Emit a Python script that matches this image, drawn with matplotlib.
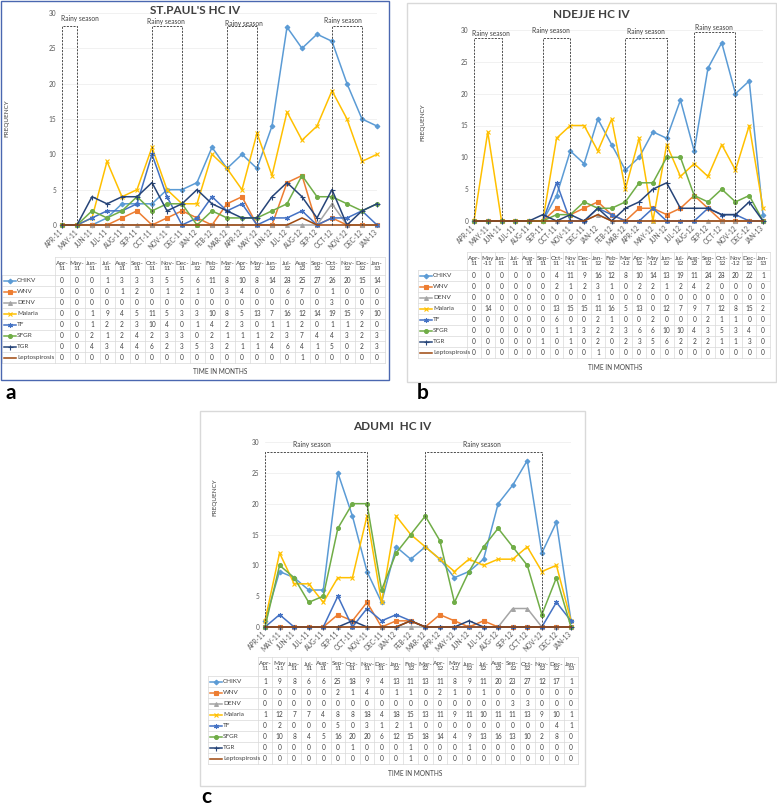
import numpy as np
import matplotlib

matplotlib.use("Agg")
import matplotlib.pyplot as plt
from matplotlib.patches import Rectangle

plt.rcParams["font.family"] = ["Lato", "DejaVu Sans"]

W, H = 777, 806

# months on the category axis
months = ["APR-11", "MAY-11", "JUN-11", "JUL-11", "AUG-11", "SEP-11", "OCT-11",
          "NOV-11", "DEC-11", "JAN-12", "FEB-12", "MAR-12", "APR-12", "MAY-12",
          "JUN-12", "JUL-12", "AUG-12", "SEP-12", "OCT-12", "NOV-12", "DEC-12",
          "JAN-13"]

# table header labels (as printed in each data table)
head_a = ["Apr-\n11", "May-\n11", "Jun-\n11", "Jul-\n11", "Aug-\n11", "Sep-\n11",
          "Oct-\n11", "Nov-\n11", "Dec-\n11", "Jan-\n12", "Feb-\n12", "Mar-\n12",
          "Apr-\n12", "May-\n12", "Jun-\n12", "Jul-\n12", "Aug-\n12", "Sep-\n12",
          "Oct-\n12", "Nov-\n12", "Dec-\n12", "Jan-\n13"]
head_b = ["Apr-\n11", "May\n-11", "Jun-\n11", "Jul-\n11", "Aug-\n11", "Sep-\n11",
          "Oct-\n11", "Nov\n-11", "Dec-\n11", "Jan-\n12", "Feb-\n12", "Mar\n-12",
          "Apr-\n12", "May\n-12", "Jun-\n12", "Jul-\n12", "Aug-\n12", "Sep-\n12",
          "Oct-\n12", "Nov\n-12", "Dec-\n12", "Jan-\n13"]
head_c = ["Apr-\n11", "May\n-11", "Jun-\n11", "Jul-\n11", "Aug-\n11", "Sep-\n11",
          "Oct-\n11", "Nov-\n11", "Dec-\n11", "Jan-\n12", "Feb-\n12", "Mar-\n12",
          "Apr-\n12", "May\n-12", "Jun-\n12", "Jul-\n12", "Aug-\n12", "Sep-\n12",
          "Oct-\n12", "Nov-\n12", "Dec-\n12", "Jan-\n13"]

series_names = ["CHIKV", "WNV", "DENV", "Malaria", "TF", "SFGR", "TGR", "Leptospirosis"]

# St. Paul's HC IV
stpaul_chikv = [0, 0, 0, 1, 3, 3, 3, 5, 5, 6, 11, 8, 10, 8, 14, 28, 25, 27, 26, 20, 15, 14]
stpaul_wnv = [0, 0, 0, 0, 1, 2, 0, 1, 2, 1, 0, 3, 4, 0, 0, 6, 7, 0, 1, 0, 0, 0]
stpaul_denv = [0, 0, 0, 0, 0, 0, 0, 0, 0, 0, 0, 0, 0, 0, 0, 0, 0, 0, 3, 0, 0, 0]
stpaul_malaria = [0, 0, 1, 9, 4, 5, 11, 5, 3, 3, 10, 8, 5, 13, 7, 16, 12, 14, 19, 15, 9, 10]
stpaul_tf = [0, 0, 1, 2, 2, 3, 10, 4, 0, 1, 4, 2, 3, 0, 1, 1, 2, 0, 1, 1, 2, 0]
stpaul_sfgr = [0, 0, 2, 1, 2, 4, 2, 3, 3, 0, 2, 1, 1, 1, 2, 3, 7, 4, 4, 3, 2, 3]
stpaul_tgr = [0, 0, 4, 3, 4, 4, 6, 2, 3, 5, 3, 2, 1, 1, 4, 6, 4, 1, 5, 0, 2, 3]
stpaul_lepto = [0, 0, 0, 0, 0, 0, 0, 0, 0, 0, 0, 0, 0, 0, 0, 0, 1, 0, 0, 0, 0, 0]

# Ndejje HC IV
ndejje_chikv = [0, 0, 0, 0, 0, 0, 4, 11, 9, 16, 12, 8, 10, 14, 13, 19, 11, 24, 28, 20, 22, 1]
ndejje_wnv = [0, 0, 0, 0, 0, 0, 2, 1, 2, 3, 1, 0, 2, 2, 1, 2, 4, 2, 0, 0, 0, 0]
ndejje_denv = [0, 0, 0, 0, 0, 0, 0, 0, 0, 1, 0, 0, 0, 0, 0, 0, 0, 0, 0, 0, 0, 0]
ndejje_malaria = [0, 14, 0, 0, 0, 0, 13, 15, 15, 11, 16, 5, 13, 0, 12, 7, 9, 7, 12, 8, 15, 2]
ndejje_tf = [0, 0, 0, 0, 0, 0, 6, 0, 0, 2, 1, 0, 0, 2, 0, 0, 0, 2, 1, 1, 0, 0]
ndejje_sfgr = [0, 0, 0, 0, 0, 0, 1, 1, 3, 2, 2, 3, 6, 6, 10, 10, 4, 3, 5, 3, 4, 0]
ndejje_tgr = [0, 0, 0, 0, 0, 1, 0, 1, 0, 2, 0, 2, 3, 5, 6, 2, 2, 2, 1, 1, 3, 0]
ndejje_lepto = [0, 0, 0, 0, 0, 0, 0, 0, 0, 1, 0, 0, 0, 0, 0, 0, 0, 0, 0, 0, 0, 0]

# Adumi HC IV
adumi_chikv = [1, 9, 8, 6, 6, 25, 18, 9, 4, 13, 11, 13, 11, 8, 9, 11, 20, 23, 27, 12, 17, 1]
adumi_wnv = [0, 0, 0, 0, 0, 2, 1, 4, 0, 1, 1, 0, 2, 1, 0, 1, 0, 0, 0, 0, 0, 0]
adumi_denv = [0, 0, 0, 0, 0, 0, 0, 0, 0, 0, 0, 0, 0, 0, 0, 0, 0, 3, 3, 0, 0, 0]
adumi_malaria = [1, 12, 7, 7, 4, 8, 8, 18, 4, 18, 15, 13, 11, 9, 11, 10, 11, 11, 13, 9, 10, 1]
adumi_tf = [0, 2, 0, 0, 0, 5, 0, 3, 1, 2, 1, 0, 0, 0, 0, 0, 0, 0, 0, 0, 4, 1]
adumi_sfgr = [0, 10, 8, 4, 5, 16, 20, 20, 6, 12, 15, 18, 14, 4, 9, 13, 16, 13, 10, 2, 8, 0]
adumi_tgr = [0, 0, 0, 0, 0, 0, 1, 0, 0, 0, 1, 0, 0, 0, 1, 0, 0, 0, 0, 0, 0, 0]
adumi_lepto = [0, 0, 0, 0, 0, 0, 0, 0, 0, 0, 1, 0, 0, 0, 0, 0, 0, 0, 0, 0, 0, 0]

# rainy season spans (first month index, last month index)
seasons_a = [(0, 1), (6, 8), (11, 13), (18, 20)]
seasons_b = [(0, 2), (5, 7), (11, 14), (16, 19)]
seasons_c = [(0, 7), (11, 19)]

styles = {
    "CHIKV": ("#5B9BD5", "D", 2.4),
    "WNV": ("#ED7D31", "s", 2.6),
    "DENV": ("#A5A5A5", "^", 2.8),
    "Malaria": ("#FFC000", "x", 3.4),
    "TF": ("#4472C4", (6, 2, 0), 3.6),
    "SFGR": ("#70AD47", "o", 2.8),
    "TGR": ("#264478", "+", 3.6),
    "Leptospirosis": ("#9E480E", None, 0),
}

TXT = "#404040"


def draw_panel(fig, title, values, head, seasons, box, box_color, title_y,
               chart, ylab_xy, season_pos, tab_top, head_h, row_h, leg_left,
               time_xy, letter, letter_xy):
    x0, x1, yt, yb = chart
    n = len(months)

    # panel frame
    bx0, by0, bx1, by1 = box
    fig.add_artist(Rectangle((bx0 / W, 1 - by1 / H), (bx1 - bx0) / W, (by1 - by0) / H,
                             transform=fig.transFigure, fill=False, ec=box_color, lw=1))
    fig.text((bx0 + bx1) / 2 / W, 1 - title_y / H, title, ha="center", va="center",
             fontsize=8.5, weight="bold", color=TXT)

    ax = fig.add_axes([x0 / W, 1 - yb / H, (x1 - x0) / W, (yb - yt) / H])
    idx = np.arange(n)
    for name, vals in zip(series_names, values):
        col, mk, ms = styles[name]
        ax.plot(idx, vals, color=col, marker=mk, ms=ms, mew=0.8, lw=1.1,
                clip_on=False, zorder=3)
    ax.set_xlim(0, n - 1)
    ax.set_ylim(0, 30)
    ax.set_yticks(range(0, 31, 5))
    ax.set_xticks(idx)
    ax.set_xticklabels(months, rotation=45, ha="right", va="center",
                       rotation_mode="anchor", fontsize=4.5, color="#595959")
    ax.tick_params(length=0, pad=4, labelsize=4.7, labelcolor="#595959")
    for s in ax.spines.values():
        s.set_visible(False)
    ax.grid(axis="y", color="#ececec", lw=0.5)
    ax.set_axisbelow(True)
    ax.patch.set_alpha(0)

    for (s0, s1), (top, lx, ly) in zip(seasons, season_pos):
        ax.plot([s0, s0, s1, s1], [0, top, top, 0], ls=(0, (2.5, 1.5)),
                color="#303030", lw=0.6, clip_on=False, zorder=5)
        ax.text(lx, ly, "Rainy season", fontsize=4.8, ha="center", va="center",
                color=TXT, zorder=6)

    fig.text(ylab_xy[0] / W, 1 - ylab_xy[1] / H, "FREQUENCY", rotation=90,
             ha="center", va="center", fontsize=4.6, color=TXT)

    # data table below the chart
    tab_h = head_h + len(values) * row_h
    tax = fig.add_axes([x0 / W, 1 - (tab_top + tab_h) / H, (x1 - x0) / W, tab_h / H])
    tax.set_xlim(0, n - 1)
    tax.set_ylim(tab_h, 0)
    tax.axis("off")
    u = (n - 1) / (x1 - x0)
    lx = (leg_left - x0) * u
    gc = "#d9d9d9"
    tax.plot([-0.5, n - 0.5], [0, 0], color=gc, lw=0.5, clip_on=False)
    for k in range(len(values) + 1):
        yy = head_h + k * row_h
        tax.plot([lx, n - 0.5], [yy, yy], color=gc, lw=0.5, clip_on=False)
    for i in range(n + 1):
        tax.plot([i - 0.5, i - 0.5], [0, tab_h], color=gc, lw=0.5, clip_on=False)
    tax.plot([lx, lx], [head_h, tab_h], color=gc, lw=0.5, clip_on=False)

    for i, lab in enumerate(head):
        tax.text(i, head_h / 2, lab, ha="center", va="center", fontsize=4.6,
                 linespacing=1.0, color=TXT, clip_on=False)
    for r, (name, vals) in enumerate(zip(series_names, values)):
        yc = head_h + (r + 0.5) * row_h
        for i, v in enumerate(vals):
            tax.text(i, yc, str(v), ha="center", va="center", fontsize=4.7,
                     color=TXT, clip_on=False)
        col, mk, ms = styles[name]
        tax.plot([lx + 2 * u, lx + 14 * u], [yc, yc], color=col, lw=1.1, clip_on=False)
        if mk is not None:
            tax.plot([lx + 8 * u], [yc], color=col, marker=mk, ms=ms, mew=0.8,
                     clip_on=False)
        tax.text(lx + 15 * u, yc, name, ha="left", va="center", fontsize=4.6,
                 color=TXT, clip_on=False)

    fig.text(time_xy[0] / W, 1 - time_xy[1] / H, "TIME IN MONTHS", ha="center",
             va="center", fontsize=4.7, color=TXT)
    fig.text(letter_xy[0] / W, 1 - letter_xy[1] / H, letter, ha="center",
             va="center", fontsize=15, weight="bold", color="black")


fig = plt.figure(figsize=(W / 100, H / 100), dpi=100)

draw_panel(
    fig, "ST.PAUL'S HC IV",
    [stpaul_chikv, stpaul_wnv, stpaul_denv, stpaul_malaria, stpaul_tf,
     stpaul_sfgr, stpaul_tgr, stpaul_lepto],
    head_a, seasons_a,
    box=(1, 1, 389, 380), box_color="#4a67b0", title_y=10,
    chart=(62, 377, 13, 225), ylab_xy=(7, 118),
    season_pos=[(28.2, 1.2, 29.2), (28.2, 6.9, 28.8), (28.2, 12.1, 28.5), (28.2, 18.7, 29.0)],
    tab_top=257, head_h=18, row_h=11, leg_left=2,
    time_xy=(220, 371), letter="a", letter_xy=(11, 393),
)

draw_panel(
    fig, "NDEJJE HC IV",
    [ndejje_chikv, ndejje_wnv, ndejje_denv, ndejje_malaria, ndejje_tf,
     ndejje_sfgr, ndejje_tgr, ndejje_lepto],
    head_b, seasons_b,
    box=(407, 3, 776, 382), box_color="#d9d9d9", title_y=15,
    chart=(474, 763, 30, 221), ylab_xy=(423, 122),
    season_pos=[(28.7, 1.2, 29.5), (28.7, 5.6, 30.0), (28.7, 12.5, 29.8), (29.7, 17.4, 30.4)],
    tab_top=252, head_h=18, row_h=11, leg_left=418,
    time_xy=(615, 367), letter="b", letter_xy=(423, 393),
)

draw_panel(
    fig, "ADUMI  HC IV",
    [adumi_chikv, adumi_wnv, adumi_denv, adumi_malaria, adumi_tf,
     adumi_sfgr, adumi_tgr, adumi_lepto],
    head_c, seasons_c,
    box=(200, 411, 585, 786), box_color="#d9d9d9", title_y=427,
    chart=(265, 571, 442, 627), ylab_xy=(215, 497),
    season_pos=[(28.4, 3.2, 29.6), (28.4, 14.9, 29.6)],
    tab_top=657, head_h=19, row_h=11, leg_left=208,
    time_xy=(415, 774), letter="c", letter_xy=(206, 797),
)

fig.savefig("out.png", dpi=100)
